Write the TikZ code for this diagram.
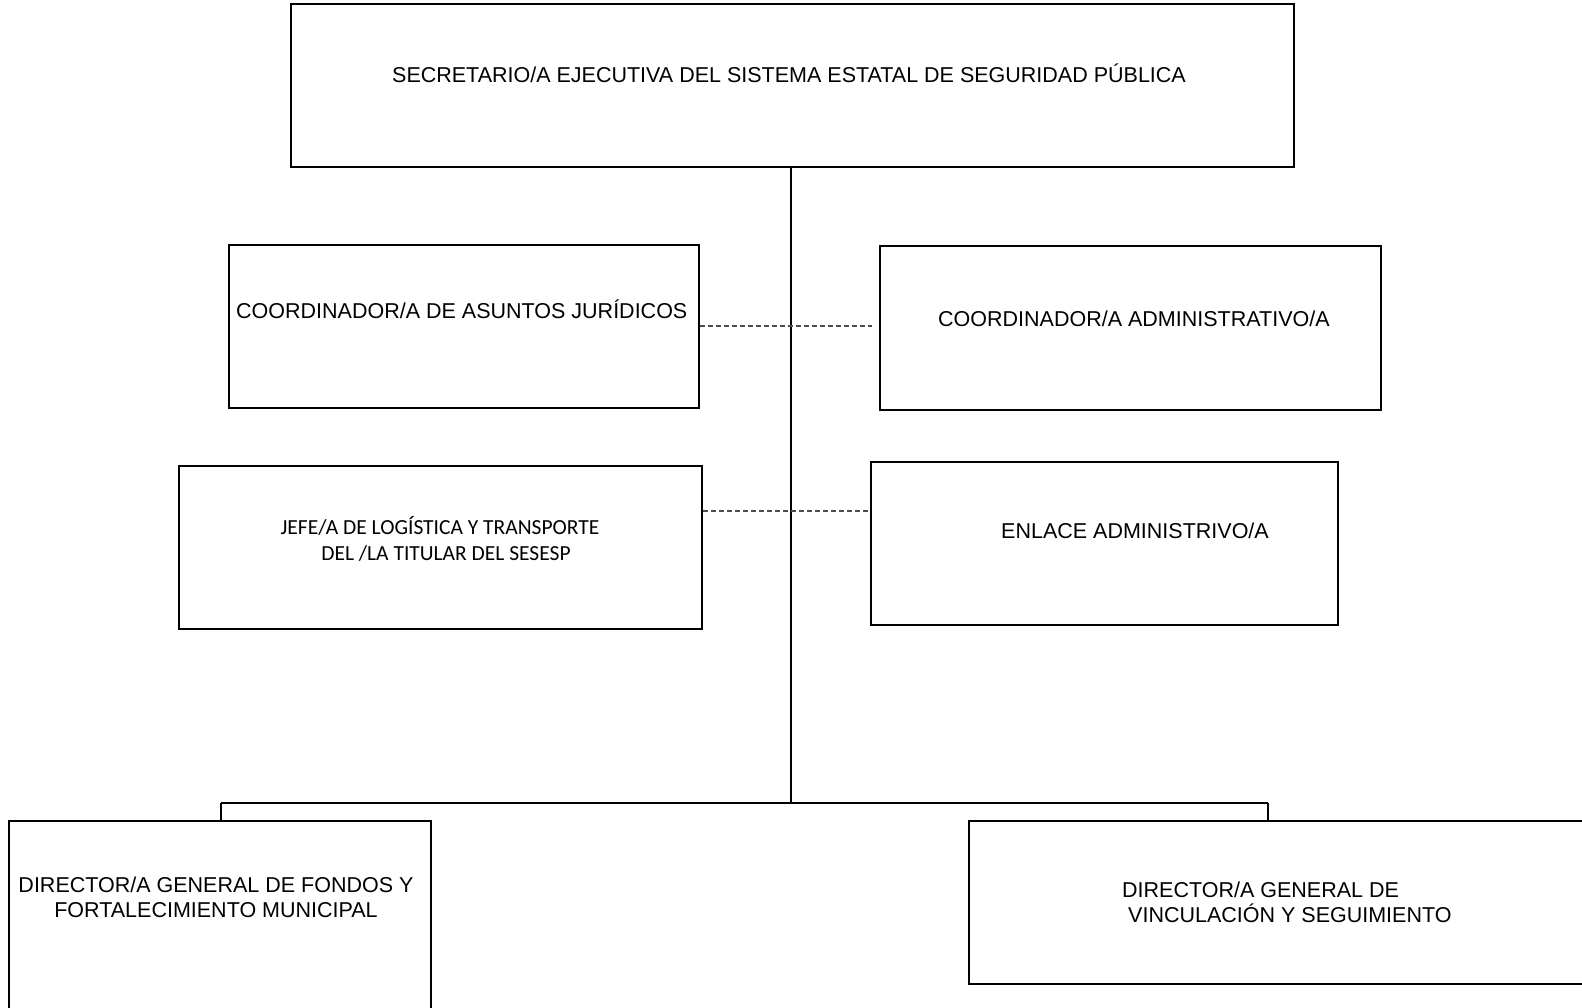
\documentclass[tikz,border=0pt]{standalone}
\usepackage{fontspec}
\setmainfont{Liberation Sans}
\newfontfamily\calibrifont{Carlito}
\begin{document}
\begin{tikzpicture}[x=1pt,y=-1pt,
  box/.style={draw=black,line width=1.3pt,inner sep=0pt},
  lbl/.style={inner sep=0pt,align=center,font=\fontsize{21.5}{25}\selectfont},
  lblc/.style={inner sep=0pt,align=center,font=\calibrifont\fontsize{21.5}{26}\selectfont},
  conn/.style={draw=black,line width=1.3pt},
  dconn/.style={draw=black!70,line width=1.2pt,dash pattern=on 5pt off 3pt}]
\useasboundingbox (0,0) rectangle (1582,1007);
\clip (0,0) rectangle (1582,1007);
% boxes
\node[box,minimum width=1003pt,minimum height=163pt] (sec) at (792.5,85.5) {};
\node[box,minimum width=470pt,minimum height=163pt] (jur) at (464,326.5) {};
\node[box,minimum width=501pt,minimum height=164pt] (adm) at (1130.5,328) {};
\node[box,minimum width=523pt,minimum height=163pt] (jefe) at (440.5,547.5) {};
\node[box,minimum width=467pt,minimum height=163pt] (enl) at (1104.5,543.5) {};
\node[box,minimum width=422pt,minimum height=260pt] (fon) at (220,951) {};
\node[box,minimum width=900pt,minimum height=163pt] (vin) at (1419,902.5) {};
% texts
\node[lbl] (secT) at (789,73) {SECRETARIO/A EJECUTIVA DEL SISTEMA ESTATAL DE SEGURIDAD PÚBLICA};
\node[lbl,anchor=west] (jurT) at (236,309) {COORDINADOR/A DE ASUNTOS JURÍDICOS};
\node[lbl,anchor=west] (admT) at (938,319) {COORDINADOR/A ADMINISTRATIVO/A};
\node[lblc] (jefeT) at (440,539) {JEFE/A DE LOGÍSTICA Y TRANSPORTE\\ \hspace*{12pt}DEL /LA TITULAR DEL SESESP};
\node[lbl,anchor=west] (enlT) at (1001,531) {ENLACE ADMINISTRIVO/A};
\node[lbl] (fonT) at (216,897.5) {DIRECTOR/A GENERAL DE FONDOS Y\\FORTALECIMIENTO MUNICIPAL};
\node[lbl,anchor=west,align=left] (vinT) at (1122,902.5) {DIRECTOR/A GENERAL DE\\\hspace*{6pt}VINCULACIÓN Y SEGUIMIENTO};
% connectors
\coordinate (bus) at (791,803);
\coordinate (busL) at (221,803);
\coordinate (busR) at (1268,803);
\draw[conn] (sec.south -| bus) -- (bus);
\draw[conn] (busL) -- (busR);
\draw[conn] (busL) -- (busL |- fon.north);
\draw[conn] (busR) -- (busR |- vin.north);
\coordinate (dashA) at (872,326);
\draw[dconn] (jur.east |- dashA) -- (dashA);
\coordinate (dashB) at (869,511);
\draw[dconn] (jefe.east |- dashB) -- (dashB);
\end{tikzpicture}
\end{document}
